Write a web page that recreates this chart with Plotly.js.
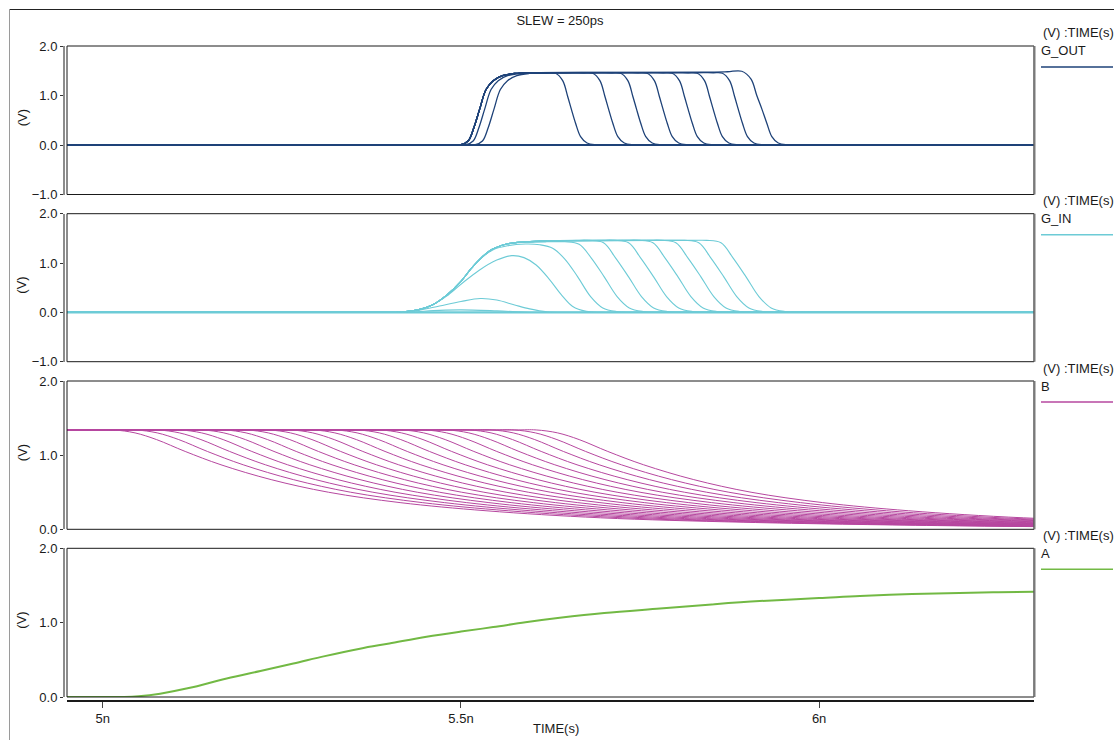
<!DOCTYPE html>
<html>
<head>
<meta charset="utf-8">
<script src="https://cdn.plot.ly/plotly-3.0.1.min.js"></script>
<style>html,body{margin:0;padding:0;background:#fff;}#chart{width:1114px;height:740px;}</style>
</head>
<body>
<div id="chart"></div>
<script>
// ---------- data (time in ns, voltage in V) ----------
const chartTitle = 'SLEW = 250ps';
const xTickValues = [5, 5.5, 6];
const xTickLabels = ['5n', '5.5n', '6n'];
const xAxisTitle = 'TIME(s)';
const yAxisTitle = '(V)';
const legendHeader = '(V) :TIME(s)';
const signalNames = ['G_OUT', 'G_IN', 'B', 'A'];
const signalColors = ['#1e4278', '#6dcbd6', '#b6479f', '#72b944'];

// G_OUT
const gOutZeroTime = [4.95, 6.30];
const gOutZeroVolts = [0, 0];
const gOutRiseTime = [4.95, 5.30, 5.49, 5.500, 5.510, 5.518, 5.526, 5.535, 5.545, 5.558, 5.575, 5.600];
const gOutRiseVolts = [0, 0, 0, 0.005, 0.08, 0.35, 0.72, 1.12, 1.30, 1.40, 1.445, 1.46];
const gOutFallVolts = [1.46, 1.46, 1.45, 1.30, 0.98, 0.73, 0.44, 0.17, 0.04, 0.005, 0, 0, 0];
const gOut1Time = [4.95, 5.30, 5.510, 5.520, 5.530, 5.538, 5.546, 5.555, 5.565, 5.578, 5.595, 5.619, 5.632, 5.642, 5.649, 5.654, 5.660, 5.667, 5.676, 5.689, 5.704, 5.804, 6.30];
const gOut1Volts = [0, 0, 0, 0.005, 0.08, 0.35, 0.72, 1.12, 1.30, 1.40, 1.445, 1.46, 1.45, 1.30, 0.98, 0.73, 0.44, 0.17, 0.04, 0.005, 0, 0, 0];
const gOut2RiseTime = [4.95, 5.30, 5.497, 5.507, 5.517, 5.525, 5.533, 5.542, 5.552, 5.565, 5.582, 5.607];
const gOut2FallTime = [5.646, 5.671, 5.684, 5.694, 5.701, 5.706, 5.712, 5.719, 5.728, 5.741, 5.756, 5.856, 6.30];
const gOut3FallTime = [5.685, 5.710, 5.723, 5.733, 5.740, 5.745, 5.751, 5.758, 5.767, 5.780, 5.795, 5.895, 6.30];
const gOut4FallTime = [5.722, 5.747, 5.760, 5.770, 5.777, 5.782, 5.788, 5.795, 5.804, 5.817, 5.832, 5.932, 6.30];
const gOut5FallTime = [5.757, 5.782, 5.795, 5.805, 5.812, 5.817, 5.823, 5.830, 5.839, 5.852, 5.867, 5.967, 6.30];
const gOut6FallTime = [5.792, 5.817, 5.830, 5.840, 5.847, 5.852, 5.858, 5.865, 5.874, 5.887, 5.902, 6.002, 6.30];
const gOut7FallTime = [5.827, 5.852, 5.865, 5.875, 5.882, 5.887, 5.893, 5.900, 5.909, 5.922, 5.937, 6.037, 6.30];
const gOut8FallTime = [5.840, 5.872, 5.892, 5.905, 5.913, 5.920, 5.927, 5.934, 5.943, 5.956, 5.971, 6.071, 6.30];
const gOut8FallVolts = [1.47, 1.48, 1.49, 1.33, 1.0, 0.73, 0.44, 0.17, 0.04, 0.005, 0, 0, 0];

// G_IN
const gInZeroTime = [4.95, 6.30];
const gInZeroVolts = [0, 0];
const gInRiseTime = [4.95, 5.38, 5.40, 5.42, 5.44, 5.46, 5.48, 5.50, 5.515, 5.53, 5.545, 5.565, 5.59, 5.62];
const gInRiseVolts = [0, 0, 0, 0.01, 0.05, 0.15, 0.35, 0.63, 0.90, 1.13, 1.29, 1.39, 1.43, 1.45];
const gInRiseVoltsLow = [0, 0, 0, 0.01, 0.05, 0.15, 0.35, 0.63, 0.90, 1.13, 1.29, 1.39, 1.42, 1.43];
const gIn1Time = [4.95, 5.38, 5.40, 5.42, 5.44, 5.46, 5.48, 5.50, 5.515, 5.53, 5.545, 5.565, 5.59, 5.61, 5.628, 5.645, 5.663, 5.681, 5.698, 5.718, 5.738, 5.76, 6.30];
const gIn1Volts = [0, 0, 0, 0.01, 0.05, 0.15, 0.35, 0.63, 0.90, 1.12, 1.27, 1.35, 1.385, 1.37, 1.30, 1.08, 0.72, 0.32, 0.09, 0.015, 0, 0, 0];
const gIn2FallTime = [5.625, 5.645, 5.665, 5.682, 5.700, 5.718, 5.735, 5.755, 5.775, 5.800, 6.30];
const gIn2FallVolts = [1.43, 1.43, 1.38, 1.10, 0.72, 0.32, 0.09, 0.015, 0, 0, 0];
const gInFallVolts = [1.46, 1.46, 1.41, 1.10, 0.72, 0.32, 0.09, 0.015, 0, 0, 0];
const gIn3FallTime = [5.659, 5.679, 5.699, 5.716, 5.734, 5.752, 5.769, 5.789, 5.809, 5.834, 6.30];
const gIn4FallTime = [5.694, 5.714, 5.734, 5.751, 5.769, 5.787, 5.804, 5.824, 5.844, 5.869, 6.30];
const gIn5FallTime = [5.728, 5.748, 5.768, 5.785, 5.803, 5.821, 5.838, 5.858, 5.878, 5.903, 6.30];
const gIn6FallTime = [5.760, 5.780, 5.800, 5.817, 5.835, 5.853, 5.870, 5.890, 5.910, 5.935, 6.30];
const gIn7FallTime = [5.792, 5.812, 5.832, 5.849, 5.867, 5.885, 5.902, 5.922, 5.942, 5.967, 6.30];
const gIn8FallTime = [5.823, 5.843, 5.863, 5.880, 5.898, 5.916, 5.933, 5.953, 5.973, 5.998, 6.30];
const gInMidTime = [4.95, 5.38, 5.40, 5.42, 5.44, 5.46, 5.48, 5.50, 5.525, 5.55, 5.571, 5.588, 5.605, 5.624, 5.640, 5.656, 5.675, 5.695, 5.72, 6.30];
const gInMidVolts = [0, 0, 0, 0.01, 0.05, 0.15, 0.33, 0.57, 0.85, 1.06, 1.15, 1.11, 0.96, 0.66, 0.36, 0.12, 0.02, 0, 0, 0];
const gInSmallTime = [4.95, 5.38, 5.41, 5.44, 5.47, 5.50, 5.527, 5.55, 5.575, 5.596, 5.62, 5.65, 5.68, 6.30];
const gInSmallVolts = [0, 0, 0, 0.04, 0.13, 0.22, 0.28, 0.25, 0.15, 0.07, 0.01, 0, 0, 0];
const gInTinyTime = [4.95, 5.38, 5.42, 5.47, 5.50, 5.55, 5.60, 5.63, 6.30];
const gInTinyVolts = [0, 0, 0, 0.04, 0.05, 0.03, 0, 0, 0];

// B
const bVolts = [1.34, 1.34, 1.34, 1.30, 1.21, 1.05, 0.87, 0.67, 0.50, 0.36, 0.25, 0.155, 0.095, 0.05, 0.035];
const b01Time = [4.95, 4.985, 5.015, 5.045, 5.075, 5.115, 5.165, 5.235, 5.315, 5.415, 5.535, 5.695, 5.895, 6.165, 6.315];
const b02Time = [4.95, 5.016, 5.046, 5.076, 5.106, 5.146, 5.196, 5.266, 5.346, 5.446, 5.566, 5.726, 5.926, 6.196, 6.346];
const b03Time = [4.95, 5.047, 5.077, 5.107, 5.137, 5.177, 5.227, 5.297, 5.377, 5.477, 5.597, 5.757, 5.957, 6.227, 6.377];
const b04Time = [4.95, 5.078, 5.108, 5.138, 5.168, 5.208, 5.258, 5.328, 5.408, 5.508, 5.628, 5.788, 5.988, 6.258, 6.408];
const b05Time = [4.95, 5.109, 5.139, 5.169, 5.199, 5.239, 5.289, 5.359, 5.439, 5.539, 5.659, 5.819, 6.019, 6.289, 6.439];
const b06Time = [4.95, 5.140, 5.170, 5.200, 5.230, 5.270, 5.320, 5.390, 5.470, 5.570, 5.690, 5.850, 6.050, 6.320];
const b07Time = [4.95, 5.171, 5.201, 5.231, 5.261, 5.301, 5.351, 5.421, 5.501, 5.601, 5.721, 5.881, 6.081, 6.351];
const b08Time = [4.95, 5.202, 5.232, 5.262, 5.292, 5.332, 5.382, 5.452, 5.532, 5.632, 5.752, 5.912, 6.112, 6.382];
const b09Time = [4.95, 5.233, 5.263, 5.293, 5.323, 5.363, 5.413, 5.483, 5.563, 5.663, 5.783, 5.943, 6.143, 6.413];
const b10Time = [4.95, 5.264, 5.294, 5.324, 5.354, 5.394, 5.444, 5.514, 5.594, 5.694, 5.814, 5.974, 6.174, 6.444];
const b11Time = [4.95, 5.295, 5.325, 5.355, 5.385, 5.425, 5.475, 5.545, 5.625, 5.725, 5.845, 6.005, 6.205, 6.475];
const b12Time = [4.95, 5.326, 5.356, 5.386, 5.416, 5.456, 5.506, 5.576, 5.656, 5.756, 5.876, 6.036, 6.236, 6.506];
const b13Time = [4.95, 5.357, 5.387, 5.417, 5.447, 5.487, 5.537, 5.607, 5.687, 5.787, 5.907, 6.067, 6.267, 6.537];
const b14Time = [4.95, 5.388, 5.418, 5.448, 5.478, 5.518, 5.568, 5.638, 5.718, 5.818, 5.938, 6.098, 6.298, 6.568];
const b15Time = [4.95, 5.420, 5.450, 5.480, 5.510, 5.550, 5.600, 5.670, 5.750, 5.850, 5.970, 6.130, 6.330];
const b16Time = [4.95, 5.451, 5.481, 5.511, 5.541, 5.581, 5.631, 5.701, 5.781, 5.881, 6.001, 6.161, 6.361];
const b17Time = [4.95, 5.482, 5.512, 5.542, 5.572, 5.612, 5.662, 5.732, 5.812, 5.912, 6.032, 6.192, 6.392];
const b18Time = [4.95, 5.513, 5.543, 5.573, 5.603, 5.643, 5.693, 5.763, 5.843, 5.943, 6.063, 6.223, 6.423];
const b19Time = [4.95, 5.544, 5.574, 5.604, 5.634, 5.674, 5.724, 5.794, 5.874, 5.974, 6.094, 6.254, 6.454];
const b20Time = [4.95, 5.575, 5.605, 5.635, 5.665, 5.705, 5.755, 5.825, 5.905, 6.005, 6.125, 6.285, 6.485];

// A
const aTime = [4.95, 5.00, 5.03, 5.05, 5.08, 5.12, 5.173, 5.22, 5.266, 5.31, 5.359, 5.40, 5.452, 5.50, 5.545, 5.59, 5.638, 5.70, 5.778, 5.85, 5.917, 6.0, 6.057, 6.13, 6.196, 6.25, 6.30];
const aVolts = [0, 0, 0, 0.01, 0.045, 0.12, 0.25, 0.35, 0.45, 0.55, 0.65, 0.72, 0.81, 0.88, 0.94, 1.005, 1.065, 1.13, 1.19, 1.245, 1.29, 1.33, 1.36, 1.385, 1.40, 1.41, 1.415];

// ---------- build traces ----------
const FONT = 'Liberation Sans, Arial, Helvetica, sans-serif';
function line(x, y, axis, color, width) {
  return {type: 'scatter', mode: 'lines', x: x, y: y, xaxis: 'x', yaxis: axis,
    line: {color: color, width: width, shape: 'spline', smoothing: 1},
    hoverinfo: 'skip', showlegend: false};
}
const traces = [];
const cOut = signalColors[0], cIn = signalColors[1], cB = signalColors[2], cA = signalColors[3];
traces.push(line(gOut1Time, gOut1Volts, 'y', cOut, 1.3));
traces.push(line(gOut2RiseTime.concat(gOut2FallTime), gOutRiseVolts.concat(gOutFallVolts), 'y', cOut, 1.3));
[gOut3FallTime, gOut4FallTime, gOut5FallTime, gOut6FallTime, gOut7FallTime]
  .forEach(f => traces.push(line(gOutRiseTime.concat(f), gOutRiseVolts.concat(gOutFallVolts), 'y', cOut, 1.3)));
traces.push(line(gOutRiseTime.concat(gOut8FallTime), gOutRiseVolts.concat(gOut8FallVolts), 'y', cOut, 1.3));
traces.push(line(gOutZeroTime, gOutZeroVolts, 'y', cOut, 2.2));

traces.push(line(gInZeroTime, gInZeroVolts, 'y2', cIn, 2.2));
traces.push(line(gInTinyTime, gInTinyVolts, 'y2', cIn, 1.1));
traces.push(line(gInSmallTime, gInSmallVolts, 'y2', cIn, 1.1));
traces.push(line(gInMidTime, gInMidVolts, 'y2', cIn, 1.1));
traces.push(line(gIn1Time, gIn1Volts, 'y2', cIn, 1.1));
traces.push(line(gInRiseTime.concat(gIn2FallTime), gInRiseVoltsLow.concat(gIn2FallVolts), 'y2', cIn, 1.1));
[gIn3FallTime, gIn4FallTime, gIn5FallTime, gIn6FallTime, gIn7FallTime, gIn8FallTime]
  .forEach(f => traces.push(line(gInRiseTime.concat(f), gInRiseVolts.concat(gInFallVolts), 'y2', cIn, 1.1)));

[b01Time, b02Time, b03Time, b04Time, b05Time, b06Time, b07Time, b08Time, b09Time, b10Time,
 b11Time, b12Time, b13Time, b14Time, b15Time, b16Time, b17Time, b18Time, b19Time, b20Time]
  .forEach(t => traces.push(line(t, bVolts, 'y3', cB, 1.0)));

traces.push(line(aTime, aVolts, 'y4', cA, 2.0));

// ---------- layout (pixel helpers) ----------
const W = 1114, H = 740, ML = 64, MR = 80, MT = 46, MB = 40;
const PW = W - ML - MR, PH = H - MT - MB;
const px = v => (v - ML) / PW;
const py = v => (H - MB - v) / PH;
const panels = [
  {top: 46, bot: 194.5, range: [-1, 2], ax: 'yaxis'},
  {top: 213.7, bot: 361.7, range: [-1, 2], ax: 'yaxis2'},
  {top: 381, bot: 529.3, range: [0, 2], ax: 'yaxis3'},
  {top: 548.3, bot: 697, range: [0, 2], ax: 'yaxis4'}
];
const layout = {
  width: W, height: H,
  margin: {l: ML, r: MR, t: MT, b: MB, pad: 0},
  paper_bgcolor: '#fff', plot_bgcolor: '#fff',
  font: {family: FONT, size: 13, color: '#1a1a1a'},
  showlegend: false,
  title: {text: chartTitle, font: {family: FONT, size: 13, color: '#1a1a1a'},
    xref: 'container', yref: 'container', x: 560 / W, y: 1 - 20 / H, xanchor: 'center', yanchor: 'middle'},
  xaxis: {domain: [px(67), 1], range: [4.95, 6.30], anchor: 'free', position: 0,
    showgrid: false, zeroline: false, showline: true, linecolor: '#1a1a1a', linewidth: 1.5,
    ticks: 'outside', ticklen: 6, tickwidth: 1, tickcolor: '#444',
    tickvals: xTickValues, ticktext: xTickLabels, tickfont: {family: FONT, size: 13, color: '#1a1a1a'}},
  shapes: [], annotations: []
};
panels.forEach((p, i) => {
  layout[p.ax] = {domain: [py(p.bot), py(p.top)], range: p.range, anchor: 'free', position: 0,
    showgrid: false, zeroline: false, showline: true, linecolor: '#8c8c8c', linewidth: 2,
    ticks: 'outside', ticklen: 3, tickwidth: 1, tickcolor: '#333', dtick: 1, tickformat: '.1f',
    tickfont: {family: FONT, size: 13, color: '#1a1a1a'}};
  layout.shapes.push({type: 'rect', xref: 'paper', yref: 'paper', x0: px(67), x1: 1,
    y0: py(p.bot), y1: py(p.top), line: {color: '#1a1a1a', width: 1}, layer: 'above'});
  layout.shapes.push({type: 'line', xref: 'paper', yref: 'paper', x0: px(1034.5), x1: px(1034.5),
    y0: py(p.bot), y1: py(p.top), line: {color: '#7a7a7a', width: 2}, layer: 'above'});
  layout.annotations.push({text: yAxisTitle, xref: 'paper', yref: 'paper', x: px(22),
    y: py((p.top + p.bot) / 2 - 2), textangle: -90, showarrow: false, xanchor: 'center', yanchor: 'middle',
    font: {family: FONT, size: 13, color: '#1a1a1a'}});
  layout.annotations.push({text: legendHeader, xref: 'paper', yref: 'paper', x: px(1041),
    y: py(p.top - 13), showarrow: false, xanchor: 'left', yanchor: 'middle',
    font: {family: FONT, size: 13, color: '#1a1a1a'}});
  layout.annotations.push({text: signalNames[i], xref: 'paper', yref: 'paper', x: px(1039),
    y: py(p.top + 5), showarrow: false, xanchor: 'left', yanchor: 'middle',
    font: {family: FONT, size: 13, color: '#1a1a1a'}});
  layout.shapes.push({type: 'line', xref: 'paper', yref: 'paper', x0: px(1041), x1: px(1113),
    y0: py(p.top + 21), y1: py(p.top + 21), line: {color: signalColors[i], width: 1.5}});
});
layout.annotations.push({text: xAxisTitle, xref: 'paper', yref: 'paper', x: px(556), y: py(728),
  showarrow: false, xanchor: 'center', yanchor: 'middle', font: {family: FONT, size: 13, color: '#1a1a1a'}});
layout.shapes.push({type: 'line', xref: 'paper', yref: 'paper', x0: px(9), x1: px(1120), y0: py(9.5), y1: py(9.5),
  line: {color: '#222', width: 1}});
layout.shapes.push({type: 'line', xref: 'paper', yref: 'paper', x0: px(9.5), x1: px(9.5), y0: py(9), y1: py(745),
  line: {color: '#9a9a9a', width: 1}});

Plotly.newPlot('chart', traces, layout, {staticPlot: true, displayModeBar: false});
</script>
</body>
</html>
